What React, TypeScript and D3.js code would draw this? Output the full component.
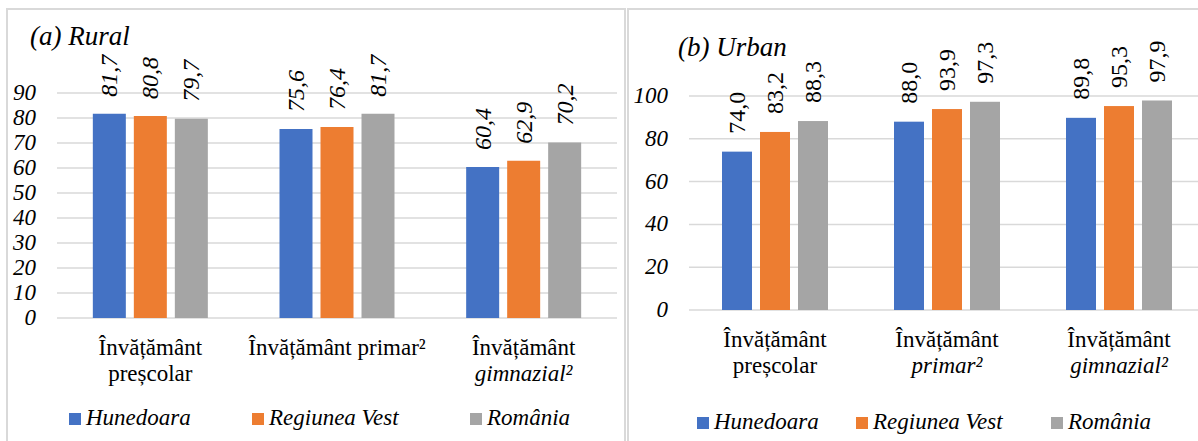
import React, { useEffect, useRef } from "react";
import * as d3 from "d3";

const seriesNames = ["Hunedoara", "Regiunea Vest", "România"];
const seriesColors = ["#4472C4", "#ED7D31", "#A5A5A5"];

const ruralCategories = ["prescolar", "primar", "gimnazial"];
const ruralCategoryLines = [["Învățământ", "preșcolar"], ["Învățământ primar²"], ["Învățământ", "gimnazial²"]];
const ruralHunedoara = [81.7, 75.6, 60.4];
const ruralRegiuneaVest = [80.8, 76.4, 62.9];
const ruralRomania = [79.7, 81.7, 70.2];
const ruralTicks = [0, 10, 20, 30, 40, 50, 60, 70, 80, 90];

const urbanCategories = ["prescolar", "primar", "gimnazial"];
const urbanCategoryLines = [["Învățământ", "preșcolar"], ["Învățământ", "primar²"], ["Învățământ", "gimnazial²"]];
const urbanHunedoara = [74.0, 88.0, 89.8];
const urbanRegiuneaVest = [83.2, 93.9, 95.3];
const urbanRomania = [88.3, 97.3, 97.9];
const urbanTicks = [0, 20, 40, 60, 80, 100];

const FONT = `"Liberation Serif"`;

function fmt(v: number) {
  return v.toFixed(1).replace(".", ",");
}

type TextSpec = { x: number; y: number; text: string; size: number; italic: boolean; anchor: string; rotate?: boolean };

function buildPanel(cfg: any, shapes: any[], texts: TextSpec[], keyPrefix: string) {
  const {
    title, titleX, titleY, categories, lines, italicLine2, values, ticks, yMax,
    x0, x1, yTop, yBottom, tickX, barWidth, barGap, labelItalic,
    catY, legendY, legendX, labelGap,
  } = cfg;
  const x = d3.scaleBand().domain(categories).range([x0, x1]);
  const groupW = barWidth * 3 + barGap * 2;
  const xs = d3
    .scaleBand()
    .domain(seriesNames)
    .range([-groupW / 2, groupW / 2])
    .paddingInner(barGap / (barWidth + barGap));
  const y = d3.scaleLinear().domain([0, yMax]).range([yBottom, yTop]);

  texts.push({ x: titleX, y: titleY, text: title, size: 27, italic: true, anchor: "start" });
  ticks.forEach((t: number) => {
    shapes.push(<line key={`${keyPrefix}g${t}`} x1={x0} x2={x1} y1={y(t)} y2={y(t)} stroke="#D9D9D9" strokeWidth={1.5} />);
    texts.push({ x: tickX, y: y(t) + 7, text: String(t), size: 23, italic: true, anchor: "end" });
  });
  categories.forEach((c: string, ci: number) => {
    const cx = (x(c) as number) + x.bandwidth() / 2;
    seriesNames.forEach((s, si) => {
      const v = values[si][ci];
      const bx = cx + (xs(s) as number);
      shapes.push(
        <rect key={`${keyPrefix}b${ci}-${si}`} x={bx} y={y(v)} width={xs.bandwidth()} height={y(0) - y(v)} fill={seriesColors[si]} />
      );
      texts.push({ x: bx + xs.bandwidth() / 2 + 8, y: y(v) - labelGap, text: fmt(v), size: 24, italic: labelItalic, anchor: "start", rotate: true });
    });
    lines[ci].forEach((ln: string, li: number) => {
      texts.push({ x: cx, y: catY + li * 26, text: ln, size: 23, italic: li === 1 && italicLine2[ci], anchor: "middle" });
    });
  });
  seriesNames.forEach((s, si) => {
    shapes.push(<rect key={`${keyPrefix}l${si}`} x={legendX[si]} y={legendY - 12} width={12} height={12} fill={seriesColors[si]} />);
    texts.push({ x: legendX[si] + 17, y: legendY, text: s, size: 23, italic: true, anchor: "start" });
  });
}

export default function App() {
  const ref = useRef<SVGSVGElement | null>(null);
  useEffect(() => {
    if (!ref.current) return;
    d3.select(ref.current)
      .selectAll("text")
      .style("font-family", FONT, "important");
  }, []);

  const shapes: any[] = [];
  const texts: TextSpec[] = [];
  buildPanel(
    {
      title: "(a) Rural", titleX: 30, titleY: 45,
      categories: ruralCategories, lines: ruralCategoryLines, italicLine2: [false, false, true],
      values: [ruralHunedoara, ruralRegiuneaVest, ruralRomania], ticks: ruralTicks, yMax: 90,
      x0: 57, x1: 617, yTop: 93, yBottom: 318, tickX: 36, barWidth: 33, barGap: 8,
      labelItalic: true, labelGap: 17, catY: 355, legendY: 425, legendX: [69, 252, 470],
    },
    shapes, texts, "r"
  );
  buildPanel(
    {
      title: "(b) Urban", titleX: 678, titleY: 56,
      categories: urbanCategories, lines: urbanCategoryLines, italicLine2: [false, true, true],
      values: [urbanHunedoara, urbanRegiuneaVest, urbanRomania], ticks: urbanTicks, yMax: 100,
      x0: 689, x1: 1205, yTop: 96, yBottom: 310, tickX: 668, barWidth: 30, barGap: 8,
      labelItalic: false, labelGap: 18, catY: 347, legendY: 429, legendX: [697, 856, 1051],
    },
    shapes, texts, "u"
  );
  return (
    <div style={{ position: "absolute", left: 0, top: 0 }}>
      <svg ref={ref} width={1198} height={441}>
        <style>{`text { font-family: "Liberation Serif" !important; }`}</style>
        <rect x={0} y={0} width={1198} height={441} fill="#fff" />
        <rect x={7} y={9} width={618} height={460} fill="#fff" stroke="#D9D9D9" strokeWidth={2} />
        <rect x={628} y={9} width={600} height={460} fill="#fff" stroke="#D9D9D9" strokeWidth={2} />
        {shapes}
        {texts.map((t, i) => (
          <text
            key={`t${i}`}
            x={t.x}
            y={t.y}
            transform={t.rotate ? `rotate(-90 ${t.x} ${t.y})` : undefined}
            style={{ fontFamily: FONT, fontSize: t.size, fontStyle: t.italic ? "italic" : "normal" }}
            textAnchor={t.anchor}
            fill="#000"
          >
            {t.text}
          </text>
        ))}
      </svg>
    </div>
  );
}
